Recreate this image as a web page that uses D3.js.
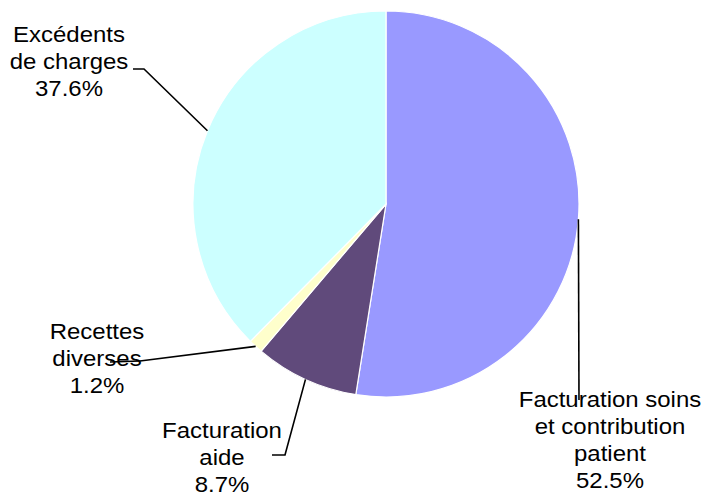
<!DOCTYPE html>
<html>
<head>
<meta charset="utf-8">
<script src="https://cdn.jsdelivr.net/npm/d3@7/dist/d3.min.js"></script>
<style>
  html, body { margin: 0; padding: 0; background: #fff; }
  svg { display: block; }
  text { font-family: "Liberation Sans", Arial, sans-serif; }
</style>
</head>
<body>
<svg id="chart" width="704" height="492"></svg>
<script>
// Data
const categories = ["Facturation soins et contribution patient", "Facturation aide", "Recettes diverses", "Excédents de charges"];
const values = [52.5, 8.7, 1.2, 37.6];
const labelLines = [
  ["Facturation soins", "et contribution", "patient", "52.5%"],
  ["Facturation", "aide", "8.7%"],
  ["Recettes", "diverses", "1.2%"],
  ["Excédents", "de charges", "37.6%"]
];
const colors = ["#9999FF", "#604A7B", "#FFFFCC", "#CCFFFF"];

// Layout (label placement)
const cx = 386, cy = 204, r = 193;
const labelLayout = [
  { x: 610, y: 407, bend: [579, 400], end: [579, 400] },
  { x: 222, y: 438, bend: [285, 455], end: [272, 455] },
  { x: 97,  y: 339, bend: [140, 361], end: [110, 362] },
  { x: 69,  y: 42,  bend: [144, 69],  end: [133, 69] }
];
const lineH = 27;

const svg = d3.select("#chart");
const g = svg.append("g").attr("transform", `translate(${cx},${cy})`);

const pie = d3.pie().sort(null).value(d => d).startAngle(0).endAngle(2 * Math.PI);
const arcs = pie(values);
const arc = d3.arc().innerRadius(0).outerRadius(r);
const edgeArc = d3.arc().innerRadius(r).outerRadius(r);

g.selectAll("path.slice")
  .data(arcs)
  .enter().append("path")
  .attr("class", "slice")
  .attr("d", arc)
  .attr("fill", (d, i) => colors[i])
  .attr("stroke", "#fff")
  .attr("stroke-width", 1.2);

// Leader lines
arcs.forEach((d, i) => {
  const c = edgeArc.centroid(d);
  const L = labelLayout[i];
  const pts = [[c[0] + cx, c[1] + cy], L.bend, L.end];
  svg.append("path")
    .attr("d", d3.line()(pts))
    .attr("fill", "none")
    .attr("stroke", "#000")
    .attr("stroke-width", 1.6);
});

// Labels
labelLines.forEach((lines, i) => {
  const L = labelLayout[i];
  const t = svg.append("g").attr("transform", `translate(${L.x},0) scale(1.09,1)`);
  lines.forEach((s, k) => {
    t.append("text")
      .attr("x", 0)
      .attr("y", L.y + k * lineH)
      .attr("text-anchor", "middle")
      .attr("font-size", 22)
      .attr("fill", "#000")
      .text(s);
  });
});
</script>
</body>
</html>
